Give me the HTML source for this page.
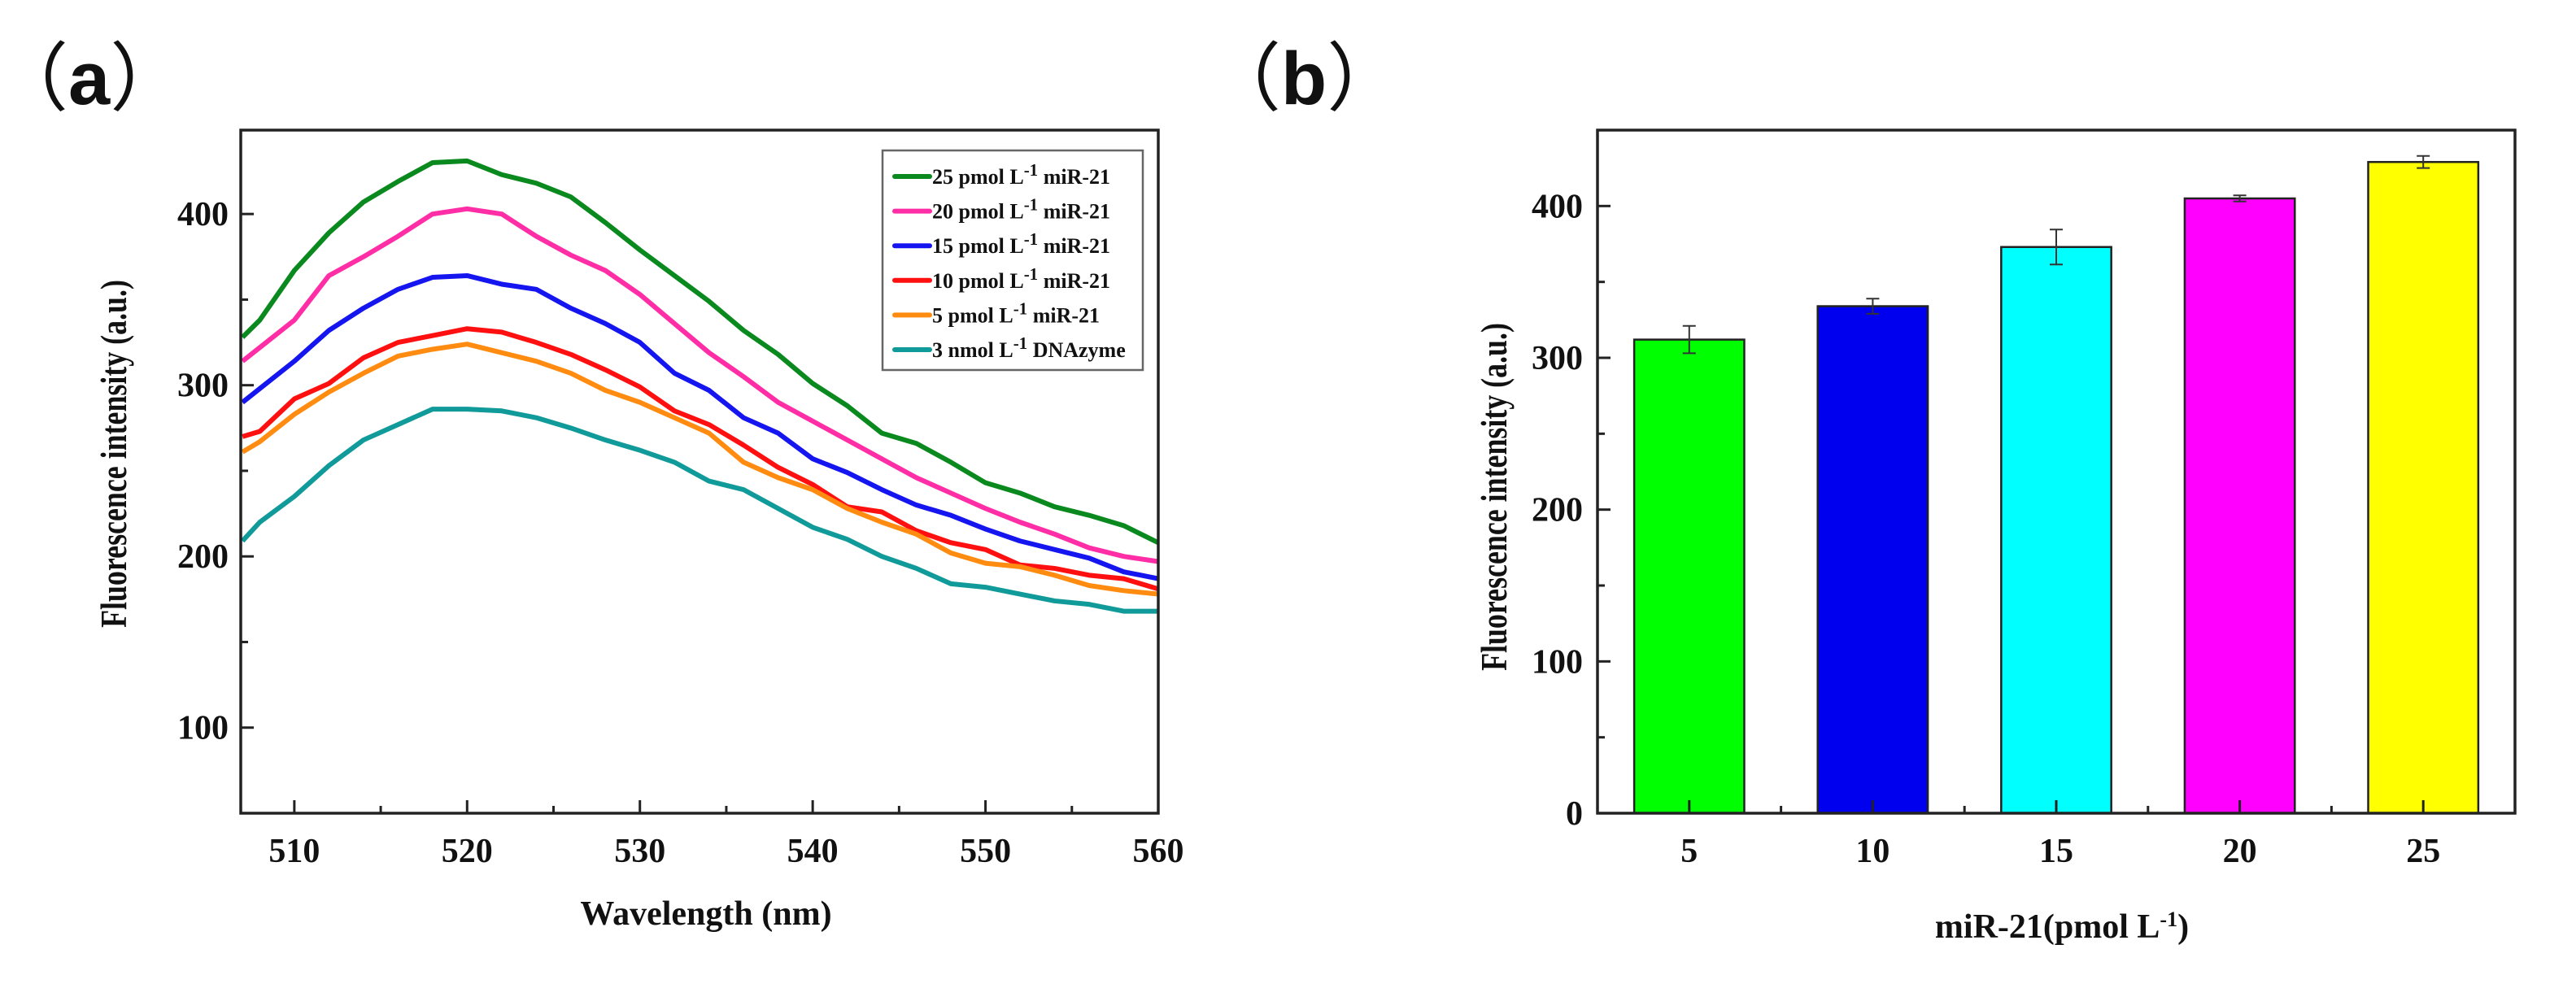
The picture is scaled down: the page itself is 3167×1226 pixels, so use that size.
<!DOCTYPE html>
<html><head><meta charset="utf-8"><style>
html,body{margin:0;padding:0;background:#fff;}
svg text{font-family:"Liberation Serif",serif;font-weight:bold;fill:#111;}
</style></head><body>
<svg id="fig" width="3167" height="1221" viewBox="0 0 3167 1221" xmlns="http://www.w3.org/2000/svg">
<text x="-8" y="128" style="font-family:'Liberation Sans','Noto Sans CJK SC',sans-serif;font-size:92px;font-weight:normal">（<tspan style="font-weight:bold">a</tspan>）</text>
<text x="1483" y="128" style="font-family:'Liberation Sans','Noto Sans CJK SC',sans-serif;font-size:92px;font-weight:normal">（<tspan style="font-weight:bold">b</tspan>）</text>
<g id="pa"></g>
<g id="pb"></g>
</svg>
<script>
const wavelengths=[507,508,510,512,514,516,518,520,522,524,526,528,530,532,534,536,538,540,542,544,546,548,550,552,554,556,558,560];
const seriesNames=["25 pmol L-1 miR-21","20 pmol L-1 miR-21","15 pmol L-1 miR-21","10 pmol L-1 miR-21","5 pmol L-1 miR-21","3 nmol L-1 DNAzyme"];
const s25=[328,338,367,389,407,419,430,431,423,418,410,395,379,364,349,332,318,301,288,272,266,255,243,237,229,224,218,208];
const s20=[314,322,338,364,375,387,400,403,400,387,376,367,353,336,319,305,290,279,268,257,246,237,228,220,213,205,200,197];
const s15=[290,298,314,332,345,356,363,364,359,356,345,336,325,307,297,281,272,257,249,239,230,224,216,209,204,199,191,187];
const s10=[270,273,292,301,316,325,329,333,331,325,318,309,299,285,277,265,252,242,229,226,215,208,204,195,193,189,187,181];
const s5=[261,267,283,296,307,317,321,324,319,314,307,297,290,281,272,255,246,239,228,220,213,202,196,194,189,183,180,178];
const sDNA=[209,220,235,253,268,277,286,286,285,281,275,268,262,255,244,239,228,217,210,200,193,184,182,178,174,172,168,168];
const seriesColors=["#0a8a1e","#ff2ea6","#1515f0","#ff1010","#ff8c10","#119a9a"];
const xTicksA=[510,520,530,540,550,560];
const yTicksA=[100,200,300,400];
const barCats=["5","10","15","20","25"];
const barVals=[312,334,373,405,429];
const barErr=[9,5,11.5,2,4];
const barColors=["#00ff00","#0000ee","#00ffff","#ff00ff","#ffff00"];
const yTicksB=[0,100,200,300,400];

const NS="http://www.w3.org/2000/svg";
function mk(parent,tag,attrs){const e=document.createElementNS(NS,tag);for(const k in attrs)e.setAttribute(k,attrs[k]);parent.appendChild(e);return e;}
function txt(parent,x,y,s,size,anchor,sy,rot){const t=mk(parent,'text',{'text-anchor':anchor,'transform':'translate('+x+','+y+')'+(rot?' rotate(-90) scale('+sy+',1)':' scale(1,'+sy+')'),'font-size':size});t.textContent=s;return t;}

// Panel A
const pa=document.getElementById('pa');
const A={l:296,r:1424,t:160,b:1000,x0:506.9,x1:560,y0:50,y1:449};
const xa=v=>A.l+(v-A.x0)/(A.x1-A.x0)*(A.r-A.l);
const ya=v=>A.b-(v-A.y0)/(A.y1-A.y0)*(A.b-A.t);
const allS=[s25,s20,s15,s10,s5,sDNA];
allS.forEach((s,i)=>{
  const p=mk(pa,'polyline',{points:s.map((v,j)=>xa(wavelengths[j])+','+ya(v)).join(' '),fill:'none',stroke:seriesColors[i],'stroke-width':6,'stroke-linejoin':'round'});
  
  
});
const fa=mk(pa,'rect',{x:A.l,y:A.t,width:A.r-A.l,height:A.b-A.t,fill:'none',stroke:'#222','stroke-width':3.5});


for(let v=510;v<=560;v+=5){const M=v%10===0;mk(pa,'line',{x1:xa(v),x2:xa(v),y1:A.b,y2:A.b-(M?16:9),stroke:'#222','stroke-width':3});}
for(let v=50;v<=449;v+=50){const M=v%100===0;mk(pa,'line',{x1:A.l,x2:A.l+(M?16:9),y1:ya(v),y2:ya(v),stroke:'#222','stroke-width':3});}
xTicksA.forEach(v=>{const t=txt(pa,xa(v),1060,String(v),42,'middle',1);});
yTicksA.forEach(v=>{const t=txt(pa,281,ya(v)+14,String(v),42,'end',1);});
const xta=txt(pa,868,1137,'Wavelength (nm)',42,'middle',1);


const yta=txt(pa,155,558,'Fluorescence intensity (a.u.)',46,'middle',0.78,true);


const lg=mk(pa,'g',{});


mk(lg,'rect',{x:1085,y:185,width:320,height:270,fill:'#fff',stroke:'#666','stroke-width':2.5});
seriesNames.forEach((n,i)=>{
  const y=217+i*42.6;
  mk(lg,'line',{x1:1100,x2:1143,y1:y,y2:y,stroke:seriesColors[i],'stroke-width':6,'stroke-linecap':'round'});
  const parts=n.split('L-1');
  const t=mk(lg,'text',{x:1146,y:y+9,'font-size':26});
  
  
  const a=document.createElementNS(NS,'tspan');a.textContent=parts[0]+'L';t.appendChild(a);
  const b=document.createElementNS(NS,'tspan');b.setAttribute('dy','-10');b.setAttribute('font-size','21');b.textContent='-1';t.appendChild(b);
  const c=document.createElementNS(NS,'tspan');c.setAttribute('dy','10');c.textContent=(i===4?'   ':'')+parts[1];c.setAttribute('xml:space','preserve');t.appendChild(c);
});

// Panel B
const pb=document.getElementById('pb');
const B={l:1964,r:3092,t:160,b:1000,y0:0,y1:450};
const band=(B.r-B.l)/barCats.length;
const xb=i=>B.l+band*(i+0.5);
const yb=v=>B.b-(v-B.y0)/(B.y1-B.y0)*(B.b-B.t);
barVals.forEach((v,i)=>{
  const w=band*0.6;
  const r=mk(pb,'rect',{x:xb(i)-w/2,y:yb(v),width:w,height:B.b-yb(v),fill:barColors[i],stroke:'#222','stroke-width':2.5});
  
  
  const e=mk(pb,'path',{d:'M'+xb(i)+','+yb(v+barErr[i])+'V'+yb(v-barErr[i])+'M'+(xb(i)-8)+','+yb(v+barErr[i])+'h16M'+(xb(i)-8)+','+yb(v-barErr[i])+'h16',stroke:'#333','stroke-width':2,fill:'none'});
  
  
});
const fb=mk(pb,'rect',{x:B.l,y:B.t,width:B.r-B.l,height:B.b-B.t,fill:'none',stroke:'#222','stroke-width':3.5});


for(let i=0;i<barCats.length;i++){mk(pb,'line',{x1:xb(i),x2:xb(i),y1:B.b,y2:B.b-16,stroke:'#222','stroke-width':3});if(i>0)mk(pb,'line',{x1:B.l+band*i,x2:B.l+band*i,y1:B.b,y2:B.b-9,stroke:'#222','stroke-width':3});}
for(let v=0;v<=450;v+=50){const M=v%100===0;mk(pb,'line',{x1:B.l,x2:B.l+(M?16:9),y1:yb(v),y2:yb(v),stroke:'#222','stroke-width':3});}
barCats.forEach((c,i)=>{const t=txt(pb,xb(i),1060,c,42,'middle',1);});
yTicksB.forEach(v=>{const t=txt(pb,1946,yb(v)+14,String(v),42,'end',1);});
const xtb=mk(pb,'text',{'text-anchor':'middle',transform:'translate(2535,1153)','font-size':42});


xtb.innerHTML='miR-21(pmol L<tspan dy="-14" font-size="26">-1</tspan><tspan dy="14">)</tspan>';
const ytb=txt(pb,1852,611,'Fluorescence intensity (a.u.)',46,'middle',0.78,true);


</script>
</body></html>
